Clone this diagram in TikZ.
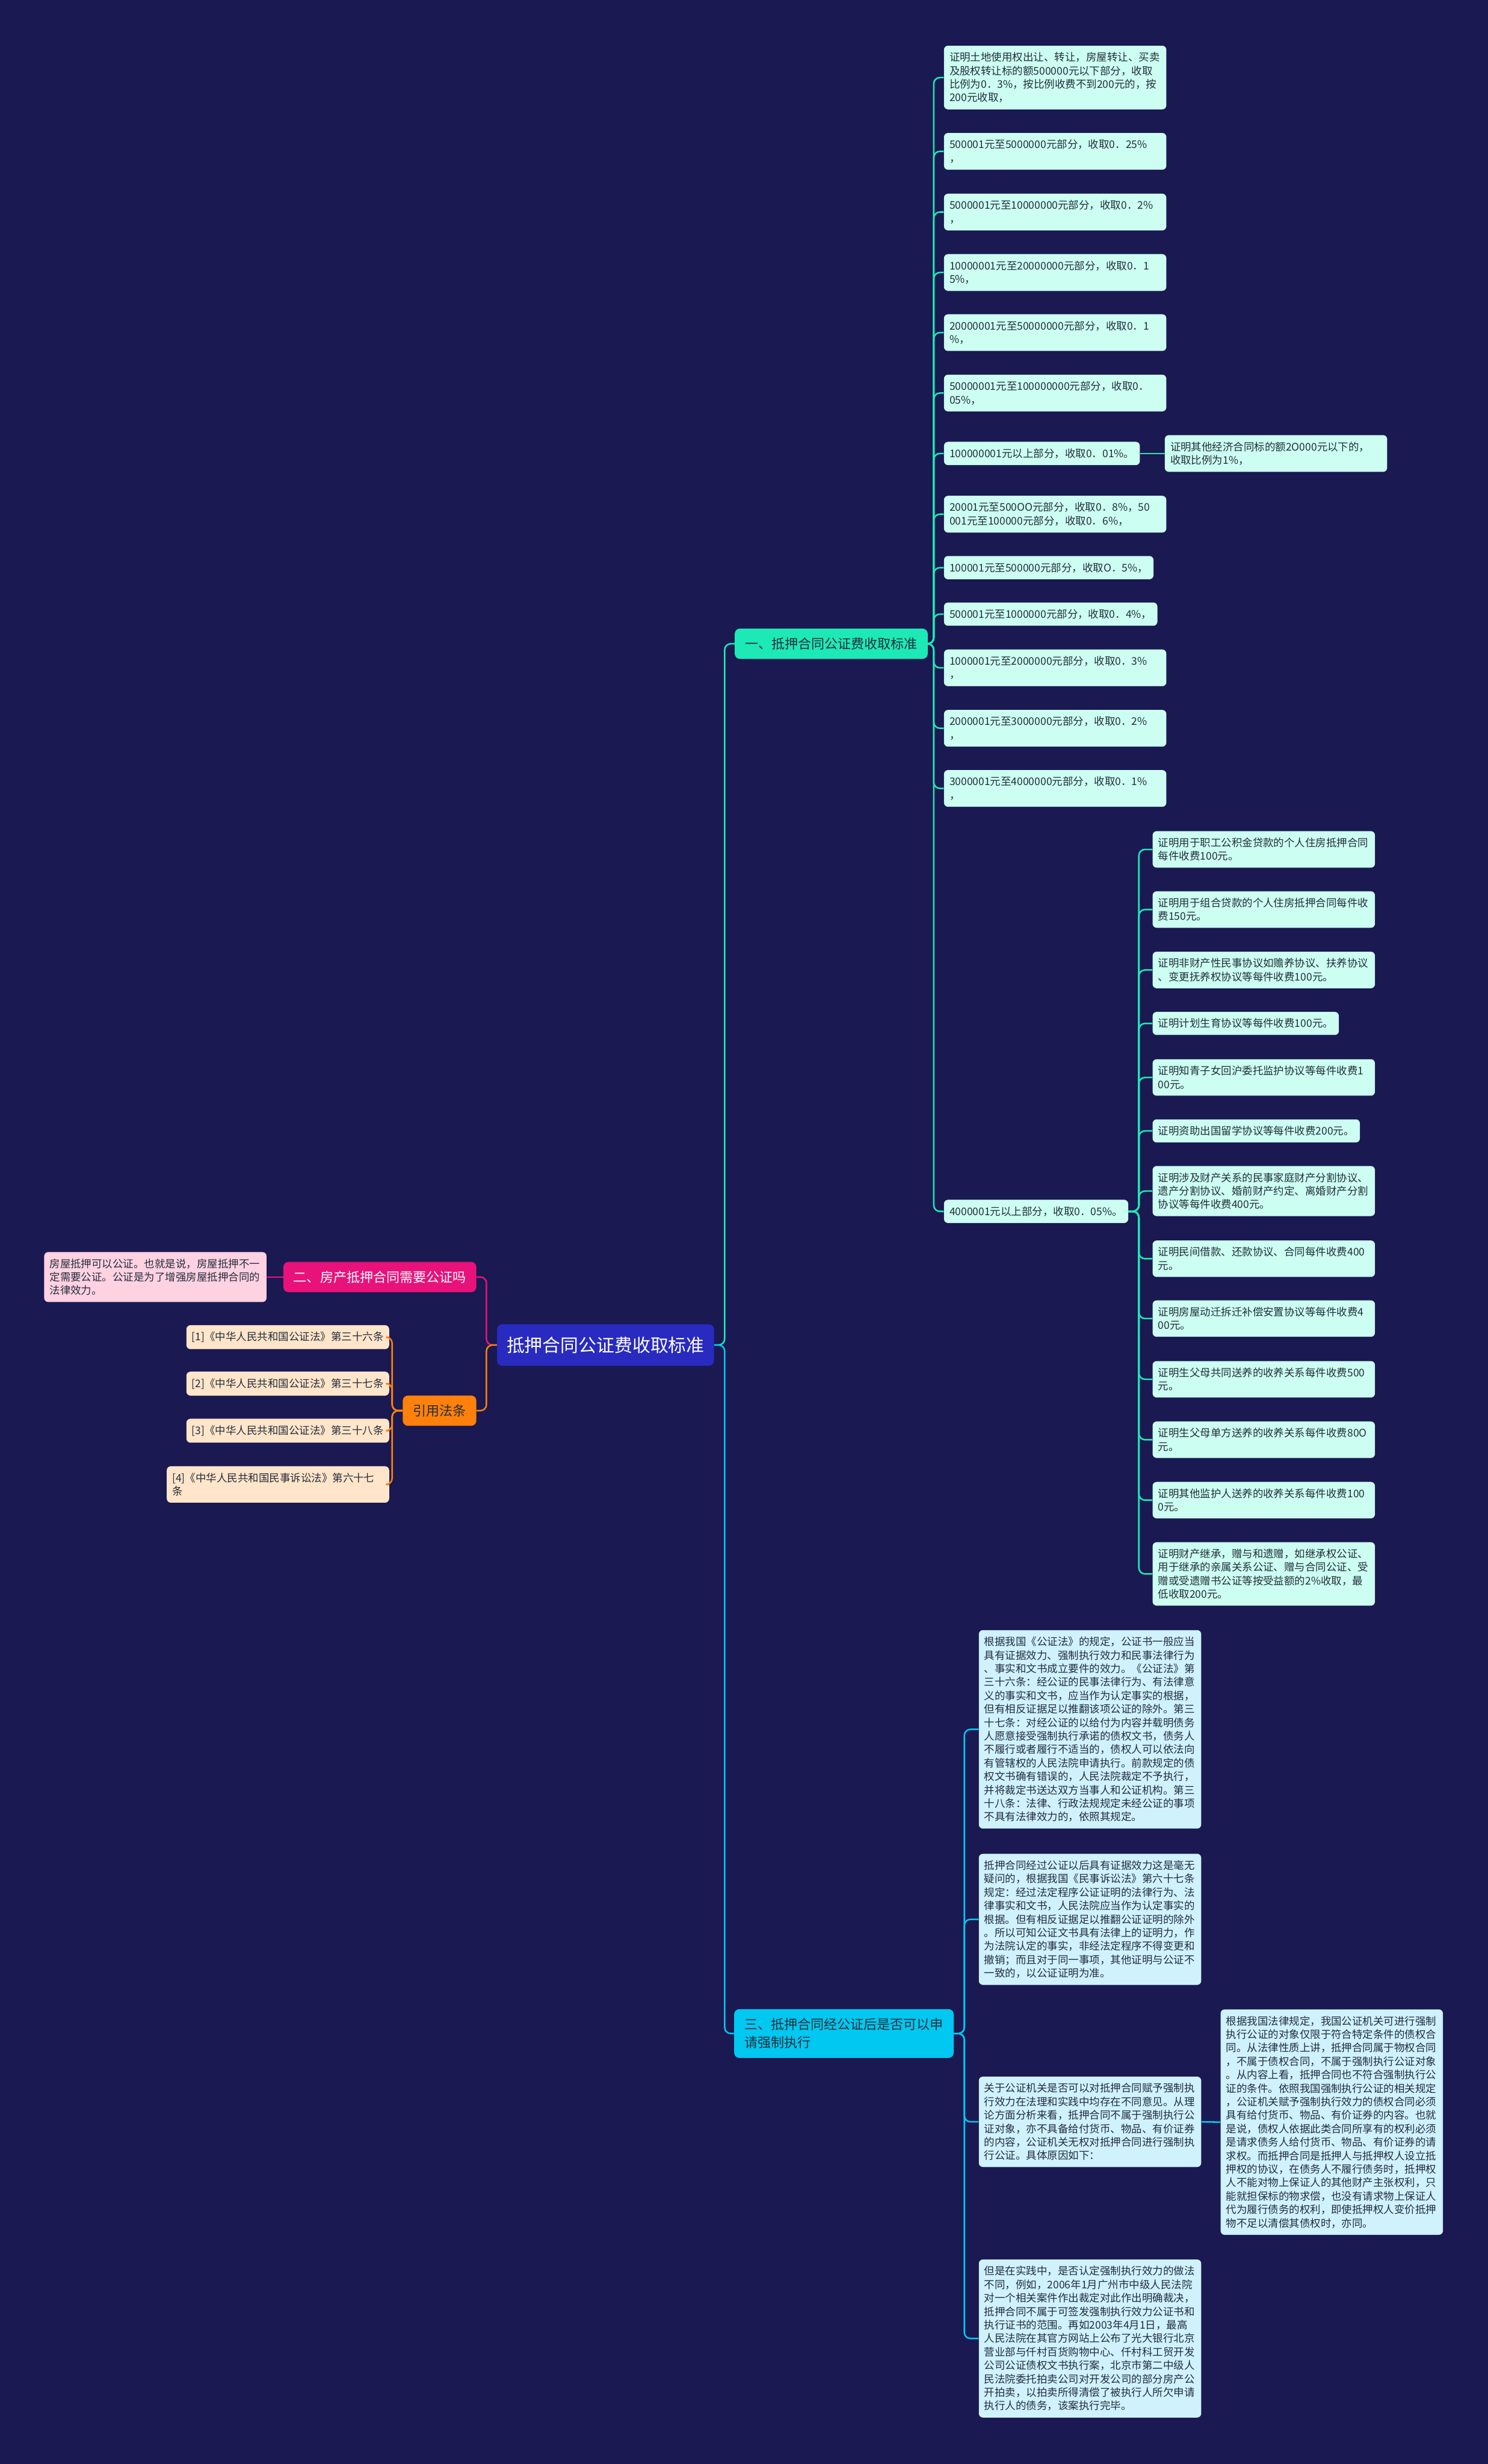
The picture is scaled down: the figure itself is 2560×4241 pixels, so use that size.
\documentclass[tikz,border=0pt]{standalone}
\usepackage{fontspec}
\setmainfont{Noto Sans CJK SC}
\usepackage{tikz}
\definecolor{bgc}{RGB}{26,25,82}
\definecolor{rootc}{RGB}{40,42,192}
\definecolor{aquac}{RGB}{29,233,182}
\definecolor{leafac}{RGB}{204,255,241}
\definecolor{cyanc}{RGB}{0,200,240}
\definecolor{leafcc}{RGB}{207,242,252}
\definecolor{magc}{RGB}{232,18,122}
\definecolor{pinkc}{RGB}{255,210,226}
\definecolor{orc}{RGB}{255,128,10}
\definecolor{peachc}{RGB}{255,229,202}
\definecolor{inkc}{RGB}{35,45,60}

\begin{document}
\begin{tikzpicture}[x=0.02cm,y=-0.02cm,
  leafbox/.style={rounded corners=4pt,inner xsep=5.4pt,inner ysep=6.5pt,align=left,
    text=inkc,font=\fontsize{10.3}{13.2}\selectfont,anchor=west},
  wrapw/.style={text width=207pt},
  leafa/.style={leafbox,fill=leafac},
  leafc/.style={leafbox,fill=leafcc},
  leafp/.style={leafbox,fill=pinkc,anchor=east},
  leafo/.style={leafbox,fill=peachc,anchor=east},
  topic/.style={rounded corners=5pt,inner xsep=10pt,inner ysep=8.8pt,align=left,
    text=inkc,font=\fontsize{13}{18}\selectfont},
  la/.style={draw=aquac,line width=1.5pt,rounded corners=6pt},
  lc/.style={draw=cyanc,line width=1.5pt,rounded corners=6pt},
  lm/.style={draw=magc,line width=1.5pt,rounded corners=6pt},
  lo/.style={draw=orc,line width=1.5pt,rounded corners=6pt}]
  \useasboundingbox (0,0) rectangle (2560,4241);
  \fill[bgc] (0,0) rectangle (2560,4241);

  \node[rounded corners=5pt,fill=rootc,text=white,inner xsep=9.4pt,inner ysep=12.2pt,
    font=\fontsize{17.6}{20}\selectfont] (root) at (1042,2315) {抵押合同公证费收取标准};

  \node[topic,fill=aquac,anchor=west] (b1) at (1264,1108) {一、抵押合同公证费收取标准};
  \node[topic,fill=magc,text=white,anchor=east] (b2) at (820,2198) {二、房产抵押合同需要公证吗};
  \node[topic,fill=orc,anchor=east] (cite) at (820,2428) {引用法条};
  \node[topic,fill=cyanc,anchor=west] (b3) at (1263,3500) {三、抵押合同经公证后是否可以申\\请强制执行};

  \node[leafa,wrapw] (L1) at (1624,133.5) {证明土地使用权出让、转让，房屋转让、买卖\\及股权转让标的额500000元以下部分，收取\\比例为0．3\%，按比例收费不到200元的，按\\200元收取，};
  \node[leafa,wrapw] (L2) at (1624,260.5) {500001元至5000000元部分，收取0．25\%\\，};
  \node[leafa,wrapw] (L3) at (1624,365) {5000001元至10000000元部分，收取0．2\%\\，};
  \node[leafa,wrapw] (L4) at (1624,469) {10000001元至20000000元部分，收取0．1\\5\%，};
  \node[leafa,wrapw] (L5) at (1624,572.5) {20000001元至50000000元部分，收取0．1\\\%，};
  \node[leafa,wrapw] (L6) at (1624,676.5) {50000001元至100000000元部分，收取0．\\05\%，};
  \node[leafa] (L7) at (1624,780.5) {100000001元以上部分，收取0．01\%。};
  \node[leafa,wrapw] (S7) at (2004,780.5) {证明其他经济合同标的额2O000元以下的，\\收取比例为1\%，};
  \node[leafa,wrapw] (L8) at (1624,885) {20001元至500OO元部分，收取0．8\%，50\\001元至100000元部分，收取0．6\%，};
  \node[leafa] (L9) at (1624,977) {100001元至500000元部分，收取O．5\%，};
  \node[leafa] (L10) at (1624,1057) {500001元至1000000元部分，收取0．4\%，};
  \node[leafa,wrapw] (L11) at (1624,1149.5) {1000001元至2000000元部分，收取0．3\%\\，};
  \node[leafa,wrapw] (L12) at (1624,1253.5) {2000001元至3000000元部分，收取0．2\%\\，};
  \node[leafa,wrapw] (L13) at (1624,1357) {3000001元至4000000元部分，收取0．1\%\\，};
  \node[leafa] (L14) at (1624,2085) {4000001元以上部分，收取0．05\%。};

  \node[leafa,wrapw] (K1) at (1983,1462) {证明用于职工公积金贷款的个人住房抵押合同\\每件收费100元。};
  \node[leafa,wrapw] (K2) at (1983,1565.5) {证明用于组合贷款的个人住房抵押合同每件收\\费150元。};
  \node[leafa,wrapw] (K3) at (1983,1669.5) {证明非财产性民事协议如赡养协议、扶养协议\\、变更抚养权协议等每件收费100元。};
  \node[leafa] (K4) at (1983,1761.5) {证明计划生育协议等每件收费100元。};
  \node[leafa,wrapw] (K5) at (1983,1854.5) {证明知青子女回沪委托监护协议等每件收费1\\00元。};
  \node[leafa] (K6) at (1983,1946.5) {证明资助出国留学协议等每件收费200元。};
  \node[leafa,wrapw] (K7) at (1983,2050) {证明涉及财产关系的民事家庭财产分割协议、\\遗产分割协议、婚前财产约定、离婚财产分割\\协议等每件收费400元。};
  \node[leafa,wrapw] (K8) at (1983,2166.5) {证明民间借款、还款协议、合同每件收费400\\元。};
  \node[leafa,wrapw] (K9) at (1983,2269.5) {证明房屋动迁拆迁补偿安置协议等每件收费4\\00元。};
  \node[leafa,wrapw] (K10) at (1983,2374) {证明生父母共同送养的收养关系每件收费500\\元。};
  \node[leafa,wrapw] (K11) at (1983,2478) {证明生父母单方送养的收养关系每件收费80O\\元。};
  \node[leafa,wrapw] (K12) at (1983,2582) {证明其他监护人送养的收养关系每件收费100\\0元。};
  \node[leafa,wrapw] (K13) at (1983,2709) {证明财产继承，赠与和遗赠，如继承权公证、\\用于继承的亲属关系公证、赠与合同公证、受\\赠或受遗赠书公证等按受益额的2\%收取，最\\低收取200元。};

  \node[leafp,wrapw] (P1) at (459,2198) {房屋抵押可以公证。也就是说，房屋抵押不一\\定需要公证。公证是为了增强房屋抵押合同的\\法律效力。};

  \node[leafo] (C1) at (670,2301.5) {[1]《中华人民共和国公证法》第三十六条};
  \node[leafo] (C2) at (670,2381.5) {[2]《中华人民共和国公证法》第三十七条};
  \node[leafo] (C3) at (670,2462.5) {[3]《中华人民共和国公证法》第三十八条};
  \node[leafo,wrapw] (C4) at (670,2555) {[4]《中华人民共和国民事诉讼法》第六十七\\条};

  \node[leafc,wrapw] (N1) at (1684,2976.5) {根据我国《公证法》的规定，公证书一般应当\\具有证据效力、强制执行效力和民事法律行为\\、事实和文书成立要件的效力。《公证法》第\\三十六条：经公证的民事法律行为、有法律意\\义的事实和文书，应当作为认定事实的根据，\\但有相反证据足以推翻该项公证的除外。第三\\十七条：对经公证的以给付为内容并载明债务\\人愿意接受强制执行承诺的债权文书，债务人\\不履行或者履行不适当的，债权人可以依法向\\有管辖权的人民法院申请执行。前款规定的债\\权文书确有错误的，人民法院裁定不予执行，\\并将裁定书送达双方当事人和公证机构。第三\\十八条：法律、行政法规规定未经公证的事项\\不具有法律效力的，依照其规定。};
  \node[leafc,wrapw] (N2) at (1684,3303.5) {抵押合同经过公证以后具有证据效力这是毫无\\疑问的，根据我国《民事诉讼法》第六十七条\\规定：经过法定程序公证证明的法律行为、法\\律事实和文书，人民法院应当作为认定事实的\\根据。但有相反证据足以推翻公证证明的除外\\。所以可知公证文书具有法律上的证明力，作\\为法院认定的事实，非经法定程序不得变更和\\撤销；而且对于同一事项，其他证明与公证不\\一致的，以公证证明为准。};
  \node[leafc,wrapw] (N3) at (1684,3652) {关于公证机关是否可以对抵押合同赋予强制执\\行效力在法理和实践中均存在不同意见。从理\\论方面分析来看，抵押合同不属于强制执行公\\证对象，亦不具备给付货币、物品、有价证券\\的内容，公证机关无权对抵押合同进行强制执\\行公证。具体原因如下：};
  \node[leafc,wrapw] (N4) at (1684,4025) {但是在实践中，是否认定强制执行效力的做法\\不同，例如，2006年1月广州市中级人民法院\\对一个相关案件作出裁定对此作出明确裁决，\\抵押合同不属于可签发强制执行效力公证书和\\执行证书的范围。再如2003年4月1日，最高\\人民法院在其官方网站上公布了光大银行北京\\营业部与仟村百货购物中心、仟村科工贸开发\\公司公证债权文书执行案，北京市第二中级人\\民法院委托拍卖公司对开发公司的部分房产公\\开拍卖，以拍卖所得清偿了被执行人所欠申请\\执行人的债务，该案执行完毕。};
  \node[leafc,wrapw] (R1) at (2100,3652.5) {根据我国法律规定，我国公证机关可进行强制\\执行公证的对象仅限于符合特定条件的债权合\\同。从法律性质上讲，抵押合同属于物权合同\\，不属于债权合同，不属于强制执行公证对象\\。从内容上看，抵押合同也不符合强制执行公\\证的条件。依照我国强制执行公证的相关规定\\，公证机关赋予强制执行效力的债权合同必须\\具有给付货币、物品、有价证券的内容。也就\\是说，债权人依据此类合同所享有的权利必须\\是请求债务人给付货币、物品、有价证券的请\\求权。而抵押合同是抵押人与抵押权人设立抵\\押权的协议，在债务人不履行债务时，抵押权\\人不能对物上保证人的其他财产主张权利，只\\能就担保标的物求偿，也没有请求物上保证人\\代为履行债务的权利，即使抵押权人变价抵押\\物不足以清偿其债权时，亦同。};

  \draw[la] (root.east) -- ++(18,0) |- (b1.west);
  \draw[lc] (root.east) -- ++(18,0) |- (b3.west);
  \draw[lm] (root.west) -- ++(-18,0) |- (b2.east);
  \draw[lo] (root.west) -- ++(-18,0) |- (cite.east);
  \foreach \n in {1,...,14}
    \draw[la] (b1.east) -- ++(10,0) |- (L\n.west);
  \draw[la] (L7.east) -- (S7.west);
  \foreach \n in {1,...,13}
    \draw[la] (L14.east) -- ++(18,0) |- (K\n.west);
  \draw[lm] (b2.west) -- (P1.east);
  \foreach \n in {1,...,4}
    \draw[lo] (cite.west) -- ++(-18,0) |- (C\n.east);
  \foreach \n in {1,...,4}
    \draw[lc] (b3.east) -- ++(18,0) |- (N\n.west);
  \draw[lc] (N3.east) -- (R1.west);
\end{tikzpicture}
\end{document}
